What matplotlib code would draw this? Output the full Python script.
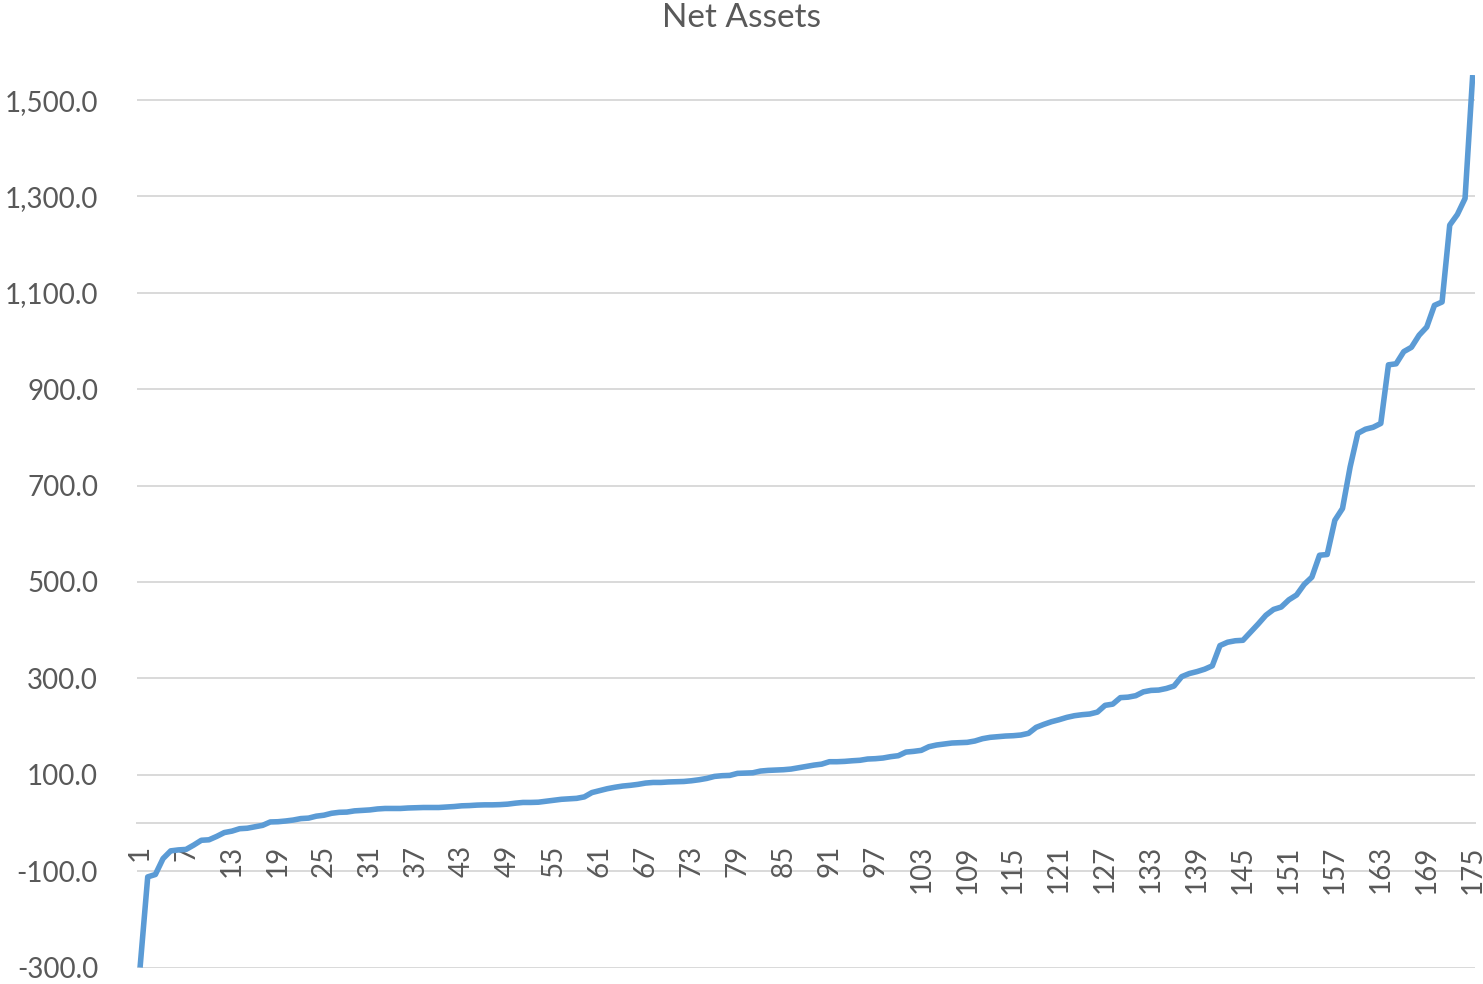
import matplotlib
matplotlib.use('Agg')
import matplotlib.pyplot as plt
import numpy as np

# Net assets, sorted ascending
net_assets = [
    -300, -112, -107, -74, -58, -56, -55, -46, -36, -35,
    -28, -20, -17, -12, -11, -8, -5, 2, 2.5, 4,
    6, 9, 10, 14, 16, 20, 22, 22.5, 25, 26,
    27, 29, 30, 30, 30, 31, 31.5, 32, 32, 32,
    33, 34, 35.5, 36, 37, 37.5, 37.5, 38, 39, 41,
    42.5, 42.5, 43, 45, 47, 49, 50, 51, 54, 63,
    67, 71, 74, 76.5, 78, 80, 82.7, 84, 84, 85,
    85.5, 86, 87.5, 89.6, 92.4, 96.5, 98, 98.6, 102.8, 103.5,
    104, 107.6, 109, 109.7, 110.4, 111.8, 114.5, 117, 120, 122,
    127, 127, 127.7, 129, 130, 132.6, 133.3, 134.7, 137.5, 139.5,
    147, 148.5, 150.6, 158.2, 161.7, 163.7, 165.8, 166.5, 167.2, 170,
    174.8, 177.6, 179, 180.3, 181, 182.4, 185.9, 198.3, 204.5, 210,
    214.2, 219, 222.5, 224.6, 226, 230, 244, 246.5, 260, 261,
    264, 272, 275, 275.7, 279, 284, 303.5, 310, 314, 319,
    326, 368, 375, 378, 379, 396, 413, 431, 443, 448,
    463, 473, 495, 510, 555.5, 557, 628, 652.5, 739, 808.5,
    817, 821, 829, 950.6, 952.7, 978, 987, 1012, 1029, 1074,
    1081, 1240.5, 1262.6, 1295.8, 1552,
]
categories = list(range(1, len(net_assets) + 1))
x_tick_labels = categories[::6]
y_ticks = [-300, -100, 100, 300, 500, 700, 900, 1100, 1300, 1500]

LINE = '#5b9bd5'
GRID = '#d9d9d9'
TEXT = '#595959'
FONT = ['Lato', 'DejaVu Sans']

plt.rcParams['font.family'] = FONT

W, H = 1483, 984
fig = plt.figure(figsize=(W / 100, H / 100), dpi=100)
left, right = 137 / W, 1475 / W
bottom, top = (H - 967.5) / H, (H - 75) / H
ax = fig.add_axes([left, bottom, right - left, top - bottom])

ax.plot(categories, net_assets, color=LINE, linewidth=4.0,
        solid_joinstyle='round', solid_capstyle='butt', zorder=3)

ax.set_xlim(0.6, 175.3)
ax.set_ylim(-300, 1552)

# category axis crosses at zero (this resets the ticks, so do it first)
for side in ['top', 'right', 'left']:
    ax.spines[side].set_visible(False)
ax.spines['bottom'].set_position(('data', 0))
ax.spines['bottom'].set_color(GRID)
ax.spines['bottom'].set_linewidth(1.4)

ax.set_yticks(y_ticks)
ax.set_yticklabels([f'{v:,.1f}' for v in y_ticks])
ax.set_xticks(x_tick_labels)
ax.set_xticklabels([str(c) for c in x_tick_labels])

ax.grid(axis='y', color=GRID, linewidth=1.4)
ax.set_axisbelow(True)
# keep the category labels above the horizontal gridlines
ax.xaxis.set_zorder(1.5)

ax.tick_params(axis='y', length=0, pad=28, labelsize=20, labelcolor=TEXT)
ax.tick_params(axis='x', length=0, pad=16, labelsize=20, labelcolor=TEXT,
               labelrotation=90)

fig.text(0.5, 1 - 18 / H, 'Net Assets', ha='center', va='center',
         fontsize=24, color=TEXT)

fig.savefig('out.png', dpi=100)
